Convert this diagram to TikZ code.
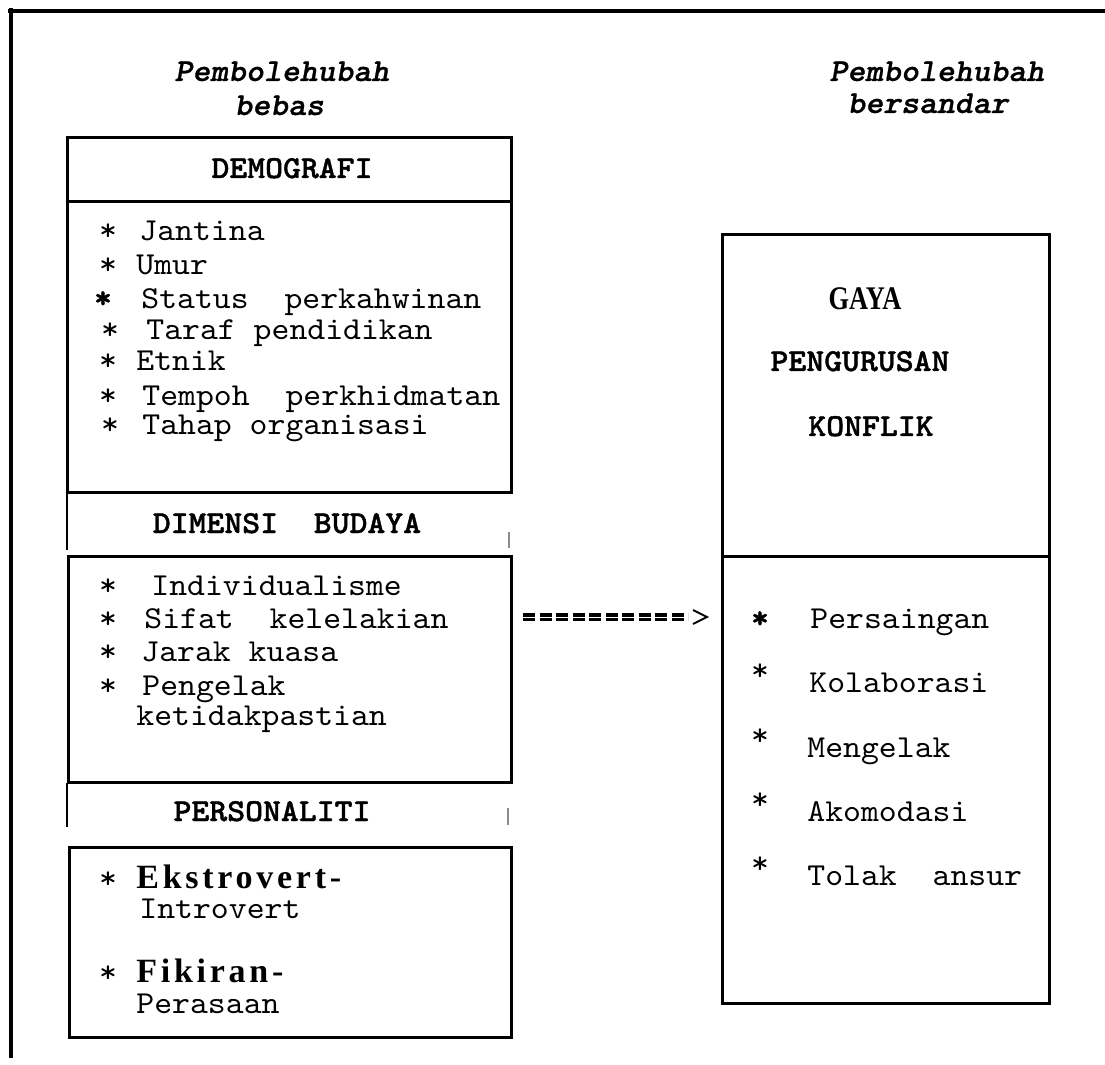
\documentclass[tikz,border=0pt]{standalone}
\usepackage{fontspec}
\usepackage{graphicx}
\newfontfamily\lmono{lmmono10-regular.otf}[FakeStretch=1.065, BoldFont=lmmonolt10-bold.otf, ItalicFont=lmmono10-italic.otf, BoldItalicFont=lmmonolt10-boldoblique.otf, BoldFeatures={FakeBold=1.2}, BoldItalicFeatures={FakeBold=0.8}]
\newfontfamily\lserif{Liberation Serif}
\newfontfamily\spserif[LetterSpace=11]{Liberation Serif}
\newcommand{\mysz}{\fontsize{16}{18}\selectfont}
\tikzset{
  frameline/.style={line width=1.75pt},
  boxnode/.style={draw, line width=1.5pt, inner sep=0pt, rectangle},
  hdr/.style={font=\lmono\bfseries\mysz, anchor=base, inner sep=0pt},
  item/.style={font=\lmono\mysz, anchor=base west, inner sep=0pt},
  bigitem/.style={font=\spserif\bfseries\fontsize{17}{19}\selectfont, anchor=base west, inner sep=0pt},
  staritem/.style={font=\lmono\mysz, anchor=base, inner sep=0pt},
  bstaritem/.style={font=\lmono\bfseries\mysz, anchor=base, inner sep=0pt},
  titletext/.style={font=\lmono\bfseries\itshape\mysz, anchor=base west, inner sep=0pt},
  thinside/.style={line width=0.8pt},
  graytick/.style={line width=0.8pt, black!45},
  dashbar/.style={double, line width=1.6pt, double distance=0.5pt, dash pattern=on 6pt off 2.25pt},
  chev/.style={line width=1pt, line join=miter}
}
\begin{document}
\begin{tikzpicture}[x=0.5pt,y=-0.5pt]
\useasboundingbox (0,0) rectangle (1105,1065);
% frame
\draw[frameline] (8,11) -- (1105,11);
\draw[frameline] (11,8) -- (11,1058);
% titles
\node[titletext] (tl1) at (174,81) {Pembolehubah};
\node[titletext] (tl2) at (234,115) {bebas};
\node[titletext] (tr1) at (829,81) {Pembolehubah};
\node[titletext] (tr2) at (847,113) {bersandar};
% DEMOGRAFI box
\node[boxnode, minimum width=222pt, minimum height=177pt] (demobox) at (289,315) {};
\draw[line width=1.5pt] (demobox.west |- 0,202) -- (demobox.east |- 0,202);
\node[hdr] (demohdr) at (292,178) {DEMOGRAFI};
\node[staritem] (ds1) at (108,241) {*};
\node[item] (di1) at (139,241) {Jantina};
\node[staritem] (ds2) at (108,275) {*};
\node[item] (di2) at (136,275) {Umur};
\node[bstaritem] (ds3) at (103,308) {*};
\node[item] (di3) at (141,308) {Status\ \ perkahwinan};
\node[staritem] (ds4) at (110,340) {*};
\node[item] (di4) at (146,340) {Taraf pendidikan};
\node[staritem] (ds5) at (108,371) {*};
\node[item] (di5) at (136,371) {Etnik};
\node[staritem] (ds6) at (108,405) {*};
\node[item] (di6) at (142,405) {Tempoh\ \ perkhidmatan};
\node[staritem] (ds7) at (110,435) {*};
\node[item] (di7) at (142,435) {Tahap organisasi};
% DIMENSI BUDAYA
\draw[thinside] (67,494) -- (67,550);
\draw[graytick] (509,532) -- (509,548);
\node[hdr] (dimhdr) at (287,533) {DIMENSI\ \ BUDAYA};
\node[boxnode, minimum width=221.5pt, minimum height=113pt] (dimbody) at (289.5,669) {};
\node[staritem] (bs1) at (108,595) {*};
\node[item] (bi1) at (151,595) {Individualisme};
\node[staritem] (bs2) at (108,628) {*};
\node[item] (bi2) at (144,628) {Sifat\ \ kelelakian};
\node[staritem] (bs3) at (108,661) {*};
\node[item] (bi3) at (141,661) {Jarak kuasa};
\node[staritem] (bs4) at (108,695) {*};
\node[item] (bi4) at (142,695) {Pengelak};
\node[item] (bi5) at (136,725) {ketidakpastian};
% PERSONALITI
\draw[thinside] (67,783) -- (67,827);
\draw[graytick] (508,808) -- (508,825);
\node[hdr] (perhdr) at (272,821) {PERSONALITI};
\node[boxnode, minimum width=221pt, minimum height=95pt] (perbody) at (290,942) {};
\node[staritem] (ps1) at (108,888) {*};
\node[bigitem] (pi1) at (136,888) {Ekstrovert-};
\node[item] (pi2) at (139,918) {Introvert};
\node[staritem] (ps2) at (108,982) {*};
\node[bigitem] (pi3) at (136,982) {Fikiran-};
\node[item] (pi4) at (136,1013) {Perasaan};
% right box
\node[boxnode, minimum width=163.5pt, minimum height=384pt] (rightbox) at (885.5,619) {};
\draw[line width=1.5pt] (rightbox.west |- 0,556) -- (rightbox.east |- 0,556);
\node[anchor=base, inner sep=0pt] (gaya) at (865,309) {\scalebox{0.8}[1]{\lserif\bfseries\fontsize{16.5}{18}\selectfont GAYA}};
\node[hdr] (peng) at (860,371) {PENGURUSAN};
\node[hdr] (konf) at (871,436) {KONFLIK};
\node[bstaritem] (rs1) at (760,628) {*};
\node[item] (ri1) at (810,628) {Persaingan};
\node[staritem] (rs2) at (760,680) {*};
\node[item] (ri2) at (809,692) {Kolaborasi};
\node[staritem] (rs3) at (760,745) {*};
\node[item] (ri3) at (807,757) {Mengelak};
\node[staritem] (rs4) at (760,809) {*};
\node[item] (ri4) at (807,821) {Akomodasi};
\node[staritem] (rs5) at (760,873) {*};
\node[item] (ri5) at (807,885) {Tolak\ \ ansur};
% connector
\coordinate (arrS) at (523,617);
\coordinate (arrM) at (688,617);
\coordinate (arrE) at (707,617);
\draw[dashbar] (arrS) -- (arrM);
\draw[chev] ([shift={(-14,-7)}]arrE) -- (arrE) -- ([shift={(-14,7)}]arrE);
\end{tikzpicture}
\end{document}
